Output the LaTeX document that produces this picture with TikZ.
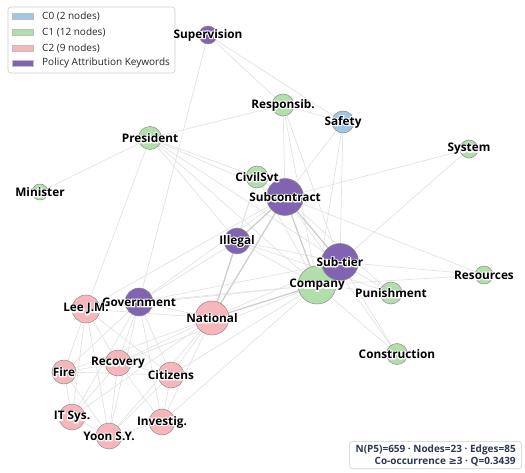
\documentclass[tikz,border=0pt]{standalone}
\usepackage{fontspec}
\setmainfont{Open Sans}
\newfontfamily\halofnt[BoldFeatures={FakeBold=18}]{Open Sans}
\newfontfamily\symfnt{DejaVu Sans}
\definecolor{cblue}{RGB}{158,198,230}
\definecolor{cgreen}{RGB}{178,222,172}
\definecolor{cpink}{RGB}{246,182,188}
\definecolor{cpurple}{RGB}{128,100,178}
\definecolor{edgecol}{RGB}{226,226,226}
\definecolor{edgedark}{RGB}{206,206,206}
\definecolor{navy}{RGB}{45,55,80}
\newcommand\lbl[1]{\rlap{\color{white}\halofnt\bfseries #1}{\bfseries #1}}
\pgfdeclarelayer{edgelayer}
\pgfsetlayers{edgelayer,main}
\tikzset{
  vtx/.style={circle, draw=black!45, line width=0.5pt, inner sep=0pt, minimum size=#1},
  lab/.style={inner sep=0pt, font=\fontsize{11.8}{13}\selectfont, text=black},
  edge/.style={draw=edgecol, line width=0.7pt},
  edgeb/.style={draw=edgedark, line width=1.3pt},
  legpatch/.style={draw=black!25, line width=0.3pt, inner sep=0pt, minimum width=21, minimum height=6.5},
  legtext/.style={anchor=west, inner sep=0pt, font=\fontsize{10}{11}\selectfont, text=black!85},
  boxstyle/.style={draw=black!20, fill=white, line width=0.6pt, rounded corners=3pt},
}
\begin{document}
\begin{tikzpicture}[x=1pt,y=-1pt]
\useasboundingbox (0,0) rectangle (525,473);
% legend
\node[boxstyle, minimum width=167, minimum height=66, inner sep=0pt] (legend) at (91.5,40) {};
\node[legpatch, fill=cblue] (lp0) at (22.5,16) {};
\node[legpatch, fill=cgreen] (lp1) at (22.5,32) {};
\node[legpatch, fill=cpink] (lp2) at (22.5,48) {};
\node[legpatch, fill=cpurple] (lp3) at (22.5,63) {};
\node[legtext] (lt0) at (42,16) {C0 (2 nodes)};
\node[legtext] (lt1) at (42,32) {C1 (12 nodes)};
\node[legtext] (lt2) at (42,48) {C2 (9 nodes)};
\node[legtext] (lt3) at (42,63) {Policy Attribution Keywords};
% circles
\node[vtx=18, fill=cpurple] (sup) at (208,35) {};
\node[vtx=22, fill=cgreen] (res) at (283,105) {};
\node[vtx=22, fill=cblue] (saf) at (343,122) {};
\node[vtx=23, fill=cgreen] (pre) at (150,138) {};
\node[vtx=18, fill=cgreen] (sys) at (469,149) {};
\node[vtx=16, fill=cgreen] (min) at (40,192) {};
\node[vtx=22, fill=cgreen] (civ) at (257,177) {};
\node[vtx=37, fill=cpurple] (sub) at (285,197) {};
\node[vtx=26, fill=cpurple] (ill) at (237,241) {};
\node[vtx=38, fill=cgreen] (com) at (317,285) {};
\node[vtx=37, fill=cpurple] (stt) at (340,262) {};
\node[vtx=22, fill=cgreen] (pun) at (391,293) {};
\node[vtx=18, fill=cgreen] (rsc) at (484,275) {};
\node[vtx=21, fill=cgreen] (con) at (397,354) {};
\node[vtx=28, fill=cpurple] (gov) at (139,302) {};
\node[vtx=28, fill=cpink] (lee) at (86,309) {};
\node[vtx=34, fill=cpink] (nat) at (212,318) {};
\node[vtx=26, fill=cpink] (rec) at (118,363) {};
\node[vtx=24, fill=cpink] (fir) at (64,372) {};
\node[vtx=26, fill=cpink] (cit) at (171,375) {};
\node[vtx=26, fill=cpink] (its) at (72,417) {};
\node[vtx=26, fill=cpink] (yoo) at (109,436) {};
\node[vtx=26, fill=cpink] (inv) at (162,422) {};
% edges
\begin{pgfonlayer}{edgelayer}
\foreach \a/\b in {sup/gov,sup/res,sup/saf,pre/res,pre/min,pre/civ,pre/sub,pre/ill,pre/lee,pre/stt,pre/com,
  res/saf,res/sub,res/stt,res/com,saf/sub,saf/stt,saf/com,sys/sub,sys/stt,sub/civ,sub/gov,sub/pun,sub/rsc,sub/con,sub/lee,
  civ/com,civ/ill,civ/nat,ill/stt,ill/com,ill/gov,ill/pun,stt/pun,stt/rsc,stt/con,stt/nat,stt/gov,
  com/pun,com/rsc,com/con,com/gov,com/cit,com/inv,com/rec,com/lee,
  nat/gov,nat/lee,nat/rec,nat/cit,nat/inv,nat/fir,nat/its,nat/yoo,
  gov/lee,gov/rec,gov/cit,gov/fir,gov/its,gov/yoo,gov/inv,
  lee/rec,lee/fir,lee/cit,lee/its,lee/yoo,rec/fir,rec/cit,rec/its,rec/yoo,rec/inv,
  fir/its,fir/yoo,fir/cit,cit/inv,cit/yoo,its/yoo,inv/yoo}
  {\draw[edge] (\a.center) -- (\b.center);}
\foreach \a/\b in {sub/stt,sub/com,sub/nat,sub/ill,stt/com,com/nat,ill/nat}
  {\draw[edgeb] (\a.center) -- (\b.center);}
\end{pgfonlayer}
% labels
\node[lab] (Lsup) at (sup) {\lbl{Supervision}};
\node[lab] (Lres) at (res) {\lbl{Responsib.}};
\node[lab] (Lsaf) at (saf) {\lbl{Safety}};
\node[lab] (Lpre) at (pre) {\lbl{President}};
\node[lab] (Lsys) at (sys) {\lbl{System}};
\node[lab] (Lmin) at (min) {\lbl{Minister}};
\node[lab] (Lciv) at (civ) {\lbl{CivilSvt}};
\node[lab] (Lsub) at (sub) {\lbl{Subcontract}};
\node[lab] (Lill) at (ill) {\lbl{Illegal}};
\node[lab] (Lstt) at (stt) {\lbl{Sub-tier}};
\node[lab] (Lcom) at (com) {\lbl{Company}};
\node[lab] (Lpun) at (pun) {\lbl{Punishment}};
\node[lab] (Lrsc) at (rsc) {\lbl{Resources}};
\node[lab] (Lcon) at (con) {\lbl{Construction}};
\node[lab] (Lgov) at (gov) {\lbl{Government}};
\node[lab] (Llee) at (lee) {\lbl{Lee J.M.}};
\node[lab] (Lnat) at (nat) {\lbl{National}};
\node[lab] (Lrec) at (rec) {\lbl{Recovery}};
\node[lab] (Lfir) at (fir) {\lbl{Fire}};
\node[lab] (Lcit) at (cit) {\lbl{Citizens}};
\node[lab] (Lits) at (its) {\lbl{IT Sys.}};
\node[lab] (Lyoo) at (yoo) {\lbl{Yoon S.Y.}};
\node[lab] (Linv) at (inv) {\lbl{Investig.}};
% stats box
\node[boxstyle, anchor=south east, align=right, inner xsep=6pt, inner ysep=3pt,
  text=navy, font=\fontsize{10}{12}\selectfont\bfseries] (stats) at (522,469)
  {N(P5)=659 · Nodes=23 · Edges=85\\Co-occurrence {\symfnt ≥}3 · Q=0.3439};
\end{tikzpicture}
\end{document}
